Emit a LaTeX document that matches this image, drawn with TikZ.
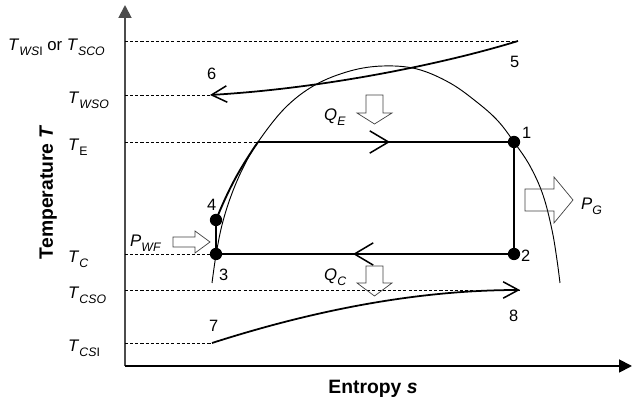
\documentclass[tikz,border=0pt]{standalone}
\usepackage{fontspec}
\setmainfont{Liberation Sans}
\usetikzlibrary{arrows.meta}
\newcommand\sbs[1]{\raisebox{-0.28em}{\fontsize{10.5}{13}\selectfont #1}}
\newcommand\lblfont{\fontsize{14.3}{17}\selectfont}
\newcommand\numfont{\fontsize{14}{17}\selectfont}
\newcommand\axfont{\fontsize{16.5}{19}\selectfont\bfseries}
\tikzset{
  lbl/.style={inner sep=0pt, anchor=base west, font=\lblfont},
  num/.style={inner sep=0pt, anchor=base west, font=\numfont},
  axlbl/.style={inner sep=0pt, anchor=base, font=\axfont},
  dot/.style={circle, fill=black, inner sep=0pt, minimum size=10.5pt},
  cyc/.style={line width=1.6pt, black},
  dome/.style={line width=0.8pt, black},
  stream/.style={line width=1.5pt, black},
  guide/.style={line width=0.6pt, black, dash pattern=on 2.6pt off 1.8pt},
  blockarrow/.style={line width=0.6pt, draw=black!75, line join=miter},
  barb/.style={-{Straight Barb[length=16pt,width=19pt,line width=1.3pt]}},
  sbarb/.style={-{Straight Barb[length=13pt,width=14pt,line width=1.3pt]}},
  axis/.style={line width=1.6pt, -{Triangle[length=11pt,width=11pt]}},
}
\begin{document}
\begin{tikzpicture}[x=0.03cm,y=-0.03cm]
\useasboundingbox (0,0) rectangle (633,403);
% axes
\coordinate (O) at (125,366);
\coordinate (ytop) at (125,5);
\coordinate (xend) at (632,366);
\draw[axis, draw=black!70] (O) -- (ytop);
\draw[axis] (O) -- (xend);
% axis level coordinates
\coordinate (yWSI) at (125,41);
\coordinate (yWSO) at (125,95);
\coordinate (yE) at (125,142);
\coordinate (yC) at (125,254);
\coordinate (yCSO) at (125,290);
\coordinate (yCSI) at (125,343);
% saturation dome
\draw[dome] plot[smooth, tension=0.6] coordinates {(212,283) (216,255) (222,225) (231,196) (243,168) (258,142) (285,108) (315,85) (350,71) (383,66) (417,69) (450,83) (478,103) (498,121) (514,142) (530,166) (543,195) (552,230) (557,260) (560,283)};
% cycle points
\node[dot] (n1) at (514,142) {};
\node[dot] (n2) at (514,254) {};
\node[dot] (n3) at (216,254) {};
\node[dot] (n4) at (216,220) {};
\coordinate (e) at (258,142);
\coordinate (mE) at (390,142);
\coordinate (mC) at (353,254);
% streams
\coordinate (p5) at (518,41);
\coordinate (p6) at (210,95);
\coordinate (p7) at (212,343);
\coordinate (p8) at (520,290);
% guides
\draw[guide] (yWSI) -- (p5);
\draw[guide] (yWSO) -- (p6);
\draw[guide] (yE) -- (e);
\draw[guide] (yC) -- (n3.center);
\draw[guide] (yCSO) -- (p8);
\draw[guide] (yCSI) -- (p7);
% cycle
\draw[cyc] (n3.center) -- (n4.center);
\draw[cyc] (n4.center) to[bend left=6] (e);
\draw[cyc] (e) -- (n1.center);
\draw[cyc, barb] (e) -- (mE);
\draw[cyc] (n1.center) -- (n2.center);
\draw[cyc] (n2.center) -- (n3.center);
\draw[cyc, barb] (n2.center) -- (mC);
% stream curves
\draw[stream, sbarb] (p5) .. controls (450,62) and (330,88) .. (p6);
\draw[stream, sbarb] (p7) .. controls (290,318) and (400,290) .. (p8);
% block arrows
\draw[blockarrow] (366,95) -- (383,95) -- (383,113) -- (392,113) -- (374.5,124) -- (357,113) -- (366,113) -- cycle;
\draw[blockarrow] (366,266) -- (383,266) -- (383,283) -- (392,283) -- (374.5,296) -- (357,283) -- (366,283) -- cycle;
\draw[blockarrow] (525,189) -- (554,189) -- (554,177) -- (573,200) -- (554,223) -- (554,211) -- (525,211) -- cycle;
\draw[blockarrow] (173,237) -- (195,237) -- (195,231) -- (210,242) -- (195,253) -- (195,247) -- (173,247) -- cycle;
% level labels
\node[lbl] (lWSI) at (8,51) {\textit{T}\sbs{\textit{WS}I} or \textit{T}\sbs{\textit{SCO}}};
\node[lbl] (lWSO) at (68,103.5) {\textit{T}\sbs{\textit{WSO}}};
\node[lbl] (lE) at (68,150.5) {\textit{T}\sbs{E}};
\node[lbl] (lC) at (68,263) {\textit{T}\sbs{\textit{C}}};
\node[lbl] (lCSO) at (68,298.5) {\textit{T}\sbs{\textit{CSO}}};
\node[lbl] (lCSI) at (68,351.5) {\textit{T}\sbs{\textit{CS}I}};
% heat / power labels
\node[lbl] (QE) at (324,121) {\textit{Q}\sbs{\textit{E}}};
\node[lbl] (QC) at (324,281) {\textit{Q}\sbs{\textit{C}}};
\node[lbl] (PG) at (581,210) {\textit{P}\sbs{\textit{G}}};
\node[lbl] (PWF) at (130,247) {\textit{P}\sbs{\textit{WF}}};
% state numbers
\node[num] (t1) at (522,139) {1};
\node[num] (t2) at (521,262) {2};
\node[num] (t3) at (219,281) {3};
\node[num] (t4) at (207,211) {4};
\node[num] (t5) at (510,68) {5};
\node[num] (t6) at (207,80) {6};
\node[num] (t7) at (209,332) {7};
\node[num] (t8) at (509,322) {8};
% axis titles
\node[axlbl, rotate=90] (ylab) at (53,192) {Temperature \textit{T}};
\node[axlbl] (xlab) at (373,394) {Entropy \textit{s}};
\end{tikzpicture}
\end{document}
